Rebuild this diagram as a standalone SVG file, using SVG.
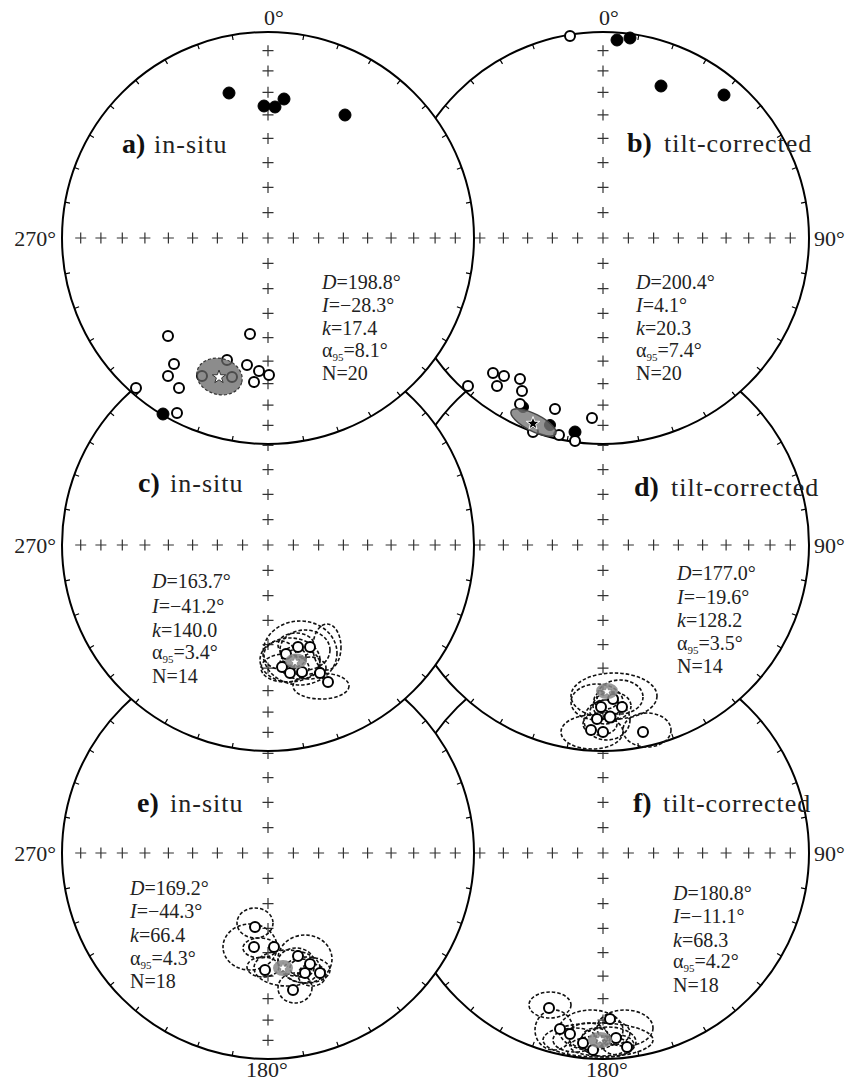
<svg xmlns="http://www.w3.org/2000/svg" xmlns:xlink="http://www.w3.org/1999/xlink" width="846" height="1081" viewBox="0 0 846 1081">
<style>
.rim{fill:#fff;stroke:#000;stroke-width:2}
.tick{fill:none;stroke:#000;stroke-width:1.2}
.grid{fill:none;stroke:#333;stroke-width:1.2}
.deg{font-family:"Liberation Serif",serif;font-size:22px;fill:#222}
.lb{font-family:"Liberation Serif",serif;font-size:28px;font-weight:bold;fill:#111}
.lt{font-family:"Liberation Serif",serif;font-size:26px;letter-spacing:1px;fill:#222}
.st{font-family:"Liberation Serif",serif;font-size:20px;fill:#222}
.it{font-style:italic}
.op{fill:#fff;stroke:#000;stroke-width:2}
.bk{fill:#000;stroke:#000;stroke-width:1}
.ds{fill:none;stroke:#111;stroke-width:1.6;stroke-dasharray:3.5 2}
.mean{fill:#888;fill-opacity:0.85;stroke:none}
.wstar{fill:#fff;stroke:#777;stroke-width:0.8}
</style>
<defs>
<path id="ticks" class="tick" d="M35.8,-202.9L34.9,-198M-35.8,-202.9L-34.9,-198M35.8,202.9L34.9,198M-35.8,202.9L-34.9,198M70.5,-193.6L68.8,-188.9M-70.5,-193.6L-68.8,-188.9M70.5,193.6L68.8,188.9M-70.5,193.6L-68.8,188.9M103,-178.4L100.5,-174.1M-103,-178.4L-100.5,-174.1M103,178.4L100.5,174.1M-103,178.4L-100.5,174.1M132.4,-157.8L129.2,-154M-132.4,-157.8L-129.2,-154M132.4,157.8L129.2,154M-132.4,157.8L-129.2,154M157.8,-132.4L154,-129.2M-157.8,-132.4L-154,-129.2M157.8,132.4L154,129.2M-157.8,132.4L-154,129.2M178.4,-103L174.1,-100.5M-178.4,-103L-174.1,-100.5M178.4,103L174.1,100.5M-178.4,103L-174.1,100.5M193.6,-70.5L188.9,-68.8M-193.6,-70.5L-188.9,-68.8M193.6,70.5L188.9,68.8M-193.6,70.5L-188.9,68.8M202.9,-35.8L198,-34.9M-202.9,-35.8L-198,-34.9M202.9,35.8L198,34.9M-202.9,35.8L-198,34.9"/>
<path id="grid" class="grid" d="M-5.5,0H5.5M0,-5.5V5.5M19.9,0H30.9M25.4,-5.5V5.5M45.1,0H56.1M50.6,-5.5V5.5M69.9,0H80.9M75.4,-5.5V5.5M94.1,0H105.1M99.6,-5.5V5.5M117.6,0H128.6M123.1,-5.5V5.5M140.2,0H151.2M145.7,-5.5V5.5M161.6,0H172.6M167.1,-5.5V5.5M181.8,0H192.8M187.3,-5.5V5.5M-30.9,0H-19.9M-25.4,-5.5V5.5M-56.1,0H-45.1M-50.6,-5.5V5.5M-80.9,0H-69.9M-75.4,-5.5V5.5M-105.1,0H-94.1M-99.6,-5.5V5.5M-128.6,0H-117.6M-123.1,-5.5V5.5M-151.2,0H-140.2M-145.7,-5.5V5.5M-172.6,0H-161.6M-167.1,-5.5V5.5M-192.8,0H-181.8M-187.3,-5.5V5.5M-5.5,25.4H5.5M0,19.9V30.9M-5.5,50.6H5.5M0,45.1V56.1M-5.5,75.4H5.5M0,69.9V80.9M-5.5,99.6H5.5M0,94.1V105.1M-5.5,123.1H5.5M0,117.6V128.6M-5.5,145.7H5.5M0,140.2V151.2M-5.5,167.1H5.5M0,161.6V172.6M-5.5,187.3H5.5M0,181.8V192.8M-5.5,-25.4H5.5M0,-30.9V-19.9M-5.5,-50.6H5.5M0,-56.1V-45.1M-5.5,-75.4H5.5M0,-80.9V-69.9M-5.5,-99.6H5.5M0,-105.1V-94.1M-5.5,-123.1H5.5M0,-128.6V-117.6M-5.5,-145.7H5.5M0,-151.2V-140.2M-5.5,-167.1H5.5M0,-172.6V-161.6M-5.5,-187.3H5.5M0,-192.8V-181.8"/>
<path id="star" d="M0,-7L1.65,-2.27L6.66,-2.16L2.66,0.87L4.11,5.66L0,2.8L-4.11,5.66L-2.66,0.87L-6.66,-2.16L-1.65,-2.27Z"/>
</defs>

<!-- f -->
<g id="net-f">
<circle class="rim" cx="603" cy="853" r="206"/>
<use href="#ticks" x="603" y="853"/>
<use href="#grid" x="603" y="853"/>
<g id="f-data">
<ellipse class="ds" cx="550" cy="1005" rx="21" ry="13"/>
<ellipse class="ds" cx="554" cy="1030" rx="19" ry="20"/>
<ellipse class="ds" cx="625" cy="1028" rx="28" ry="18"/>
<ellipse class="ds" cx="598" cy="1040" rx="55" ry="17"/>
<ellipse class="ds" cx="591" cy="1030" rx="32" ry="20"/>
<ellipse class="ds" cx="608" cy="1042" rx="28" ry="15"/>
<ellipse class="ds" cx="588" cy="1036" rx="20" ry="13"/>
<ellipse class="ds" cx="612" cy="1033" rx="18" ry="12"/>
<ellipse class="ds" cx="575" cy="1040" rx="22" ry="12"/>
<ellipse class="ds" cx="600" cy="1046" rx="30" ry="10"/>
<ellipse class="ds" cx="596" cy="1038" rx="14" ry="10"/>
<ellipse class="ds" cx="618" cy="1045" rx="16" ry="10"/>
<circle class="op" cx="549" cy="1008" r="5"/>
<circle class="op" cx="560" cy="1029" r="5"/>
<circle class="op" cx="570" cy="1034" r="5"/>
<circle class="op" cx="583" cy="1043" r="5"/>
<circle class="op" cx="610" cy="1019" r="5"/>
<circle class="op" cx="627" cy="1047" r="5"/>
<circle class="op" cx="616" cy="1038" r="5"/>
<circle class="op" cx="593" cy="1050" r="5"/>
<ellipse class="mean" cx="600" cy="1040" rx="12" ry="8"/>
<use href="#star" class="wstar" transform="translate(600,1039.5) scale(0.75)"/>
</g>
<text class="deg" x="814" y="861">90°</text>
<text class="deg" x="607" y="1077" text-anchor="middle">180°</text>
<text class="lb" x="633" y="812">f)</text>
<text class="lt" x="663" y="812">tilt-corrected</text>
<text class="st" x="673" y="900"><tspan class="it">D</tspan>=180.8°</text>
<text class="st" x="673" y="923"><tspan class="it">I</tspan>=−11.1°</text>
<text class="st" x="673" y="947"><tspan class="it">k</tspan>=68.3</text>
<text class="st" x="673" y="968">α<tspan font-size="11" dy="4">95</tspan><tspan dy="-4">=4.2°</tspan></text>
<text class="st" x="673" y="992">N=18</text>
</g>

<!-- e -->
<g id="net-e">
<circle class="rim" cx="268" cy="853" r="206"/>
<use href="#ticks" x="268" y="853"/>
<use href="#grid" x="268" y="853"/>
<g id="e-data">
<ellipse class="ds" cx="250" cy="947" rx="27" ry="23"/>
<ellipse class="ds" cx="255" cy="923" rx="18" ry="15"/>
<ellipse class="ds" cx="305" cy="959" rx="27" ry="24"/>
<ellipse class="ds" cx="295" cy="988" rx="17" ry="15"/>
<ellipse class="ds" cx="260" cy="948" rx="17" ry="10"/>
<ellipse class="ds" cx="287" cy="968" rx="33" ry="18"/>
<ellipse class="ds" cx="307" cy="970" rx="23" ry="13"/>
<ellipse class="ds" cx="263" cy="967" rx="16" ry="10"/>
<ellipse class="ds" cx="296" cy="962" rx="18" ry="14"/>
<ellipse class="ds" cx="312" cy="975" rx="14" ry="11"/>
<ellipse class="ds" cx="302" cy="968" rx="12" ry="9"/>
<circle class="op" cx="255" cy="927" r="5"/>
<circle class="op" cx="254" cy="947" r="5"/>
<circle class="op" cx="274" cy="947" r="5"/>
<circle class="op" cx="265" cy="970" r="5"/>
<circle class="op" cx="305" cy="973" r="5"/>
<circle class="op" cx="293" cy="990" r="5"/>
<circle class="op" cx="320" cy="973" r="5"/>
<circle class="op" cx="310" cy="964" r="5"/>
<circle class="op" cx="298" cy="956" r="5"/>
<ellipse class="mean" cx="283" cy="968" rx="10" ry="8"/>
<use href="#star" class="wstar" transform="translate(283,968) scale(0.75)"/>
</g>
<text class="deg" x="56" y="861" text-anchor="end">270°</text>
<text class="deg" x="267" y="1077" text-anchor="middle">180°</text>
<text class="lb" x="137" y="812">e)</text>
<text class="lt" x="170" y="812">in-situ</text>
<text class="st" x="130" y="895"><tspan class="it">D</tspan>=169.2°</text>
<text class="st" x="130" y="918"><tspan class="it">I</tspan>=−44.3°</text>
<text class="st" x="130" y="942"><tspan class="it">k</tspan>=66.4</text>
<text class="st" x="130" y="965">α<tspan font-size="11" dy="4">95</tspan><tspan dy="-4">=4.3°</tspan></text>
<text class="st" x="130" y="988">N=18</text>
</g>

<!-- d -->
<g id="net-d">
<circle class="rim" cx="603" cy="545" r="206"/>
<use href="#ticks" x="603" y="545"/>
<use href="#grid" x="603" y="545"/>
<g id="d-data">
<ellipse class="ds" cx="592" cy="732" rx="31" ry="17"/>
<ellipse class="ds" cx="647" cy="730" rx="24" ry="17"/>
<ellipse class="ds" cx="614" cy="696" rx="43" ry="23"/>
<ellipse class="ds" cx="597" cy="702" rx="26" ry="18"/>
<ellipse class="ds" cx="620" cy="697" rx="23" ry="17"/>
<ellipse class="ds" cx="607" cy="720" rx="23" ry="20"/>
<ellipse class="ds" cx="605" cy="712" rx="15" ry="12"/>
<ellipse class="ds" cx="612" cy="706" rx="19" ry="14"/>
<ellipse class="ds" cx="600" cy="724" rx="17" ry="11"/>
<ellipse class="ds" cx="606" cy="700" rx="12" ry="9"/>
<circle class="op" cx="601" cy="707" r="5"/>
<circle class="op" cx="622" cy="707" r="5"/>
<circle class="op" cx="610" cy="717" r="5.5"/>
<circle class="op" cx="643" cy="732" r="5"/>
<circle class="op" cx="591" cy="730" r="5"/>
<circle class="op" cx="603" cy="732" r="5"/>
<circle class="op" cx="613" cy="699" r="5"/>
<circle class="op" cx="597" cy="719" r="5"/>
<ellipse class="mean" cx="607" cy="691" rx="11" ry="8"/>
<use href="#star" class="wstar" transform="translate(607,691.5) scale(0.75)"/>
</g>
<text class="deg" x="814" y="553">90°</text>
<text class="lb" x="634" y="496">d)</text>
<text class="lt" x="671" y="496">tilt-corrected</text>
<text class="st" x="677" y="580"><tspan class="it">D</tspan>=177.0°</text>
<text class="st" x="677" y="604"><tspan class="it">I</tspan>=−19.6°</text>
<text class="st" x="677" y="627"><tspan class="it">k</tspan>=128.2</text>
<text class="st" x="677" y="650">α<tspan font-size="11" dy="4">95</tspan><tspan dy="-4">=3.5°</tspan></text>
<text class="st" x="677" y="673">N=14</text>
</g>

<!-- c -->
<g id="net-c">
<circle class="rim" cx="268" cy="545" r="206"/>
<use href="#ticks" x="268" y="545"/>
<use href="#grid" x="268" y="545"/>
<g id="c-data">
<ellipse class="ds" cx="300" cy="653" rx="37" ry="32"/>
<ellipse class="ds" cx="321" cy="686" rx="28" ry="13"/>
<ellipse class="ds" cx="290" cy="660" rx="30" ry="22"/>
<ellipse class="ds" cx="305" cy="650" rx="25" ry="20"/>
<ellipse class="ds" cx="327" cy="647" rx="14" ry="23"/>
<ellipse class="ds" cx="285" cy="668" rx="24" ry="14"/>
<ellipse class="ds" cx="296" cy="645" rx="18" ry="12"/>
<ellipse class="ds" cx="300" cy="664" rx="20" ry="15"/>
<ellipse class="ds" cx="280" cy="655" rx="16" ry="14"/>
<ellipse class="ds" cx="310" cy="668" rx="16" ry="11"/>
<ellipse class="ds" cx="294" cy="657" rx="12" ry="10"/>
<circle class="op" cx="298" cy="647" r="5"/>
<circle class="op" cx="310" cy="647" r="5"/>
<circle class="op" cx="282" cy="667" r="5"/>
<circle class="op" cx="290" cy="673" r="5"/>
<circle class="op" cx="302" cy="672" r="5"/>
<circle class="op" cx="320" cy="673" r="5"/>
<circle class="op" cx="328" cy="682" r="5"/>
<circle class="op" cx="286" cy="654" r="5"/>
<ellipse class="mean" cx="296" cy="661" rx="11" ry="7.5"/>
<use href="#star" class="wstar" transform="translate(295,662) scale(0.75)"/>
</g>
<text class="deg" x="56" y="553" text-anchor="end">270°</text>
<text class="lb" x="138" y="492">c)</text>
<text class="lt" x="170" y="492">in-situ</text>
<text class="st" x="152" y="588"><tspan class="it">D</tspan>=163.7°</text>
<text class="st" x="152" y="613"><tspan class="it">I</tspan>=−41.2°</text>
<text class="st" x="152" y="637"><tspan class="it">k</tspan>=140.0</text>
<text class="st" x="152" y="659">α<tspan font-size="11" dy="4">95</tspan><tspan dy="-4">=3.4°</tspan></text>
<text class="st" x="152" y="683">N=14</text>
</g>

<!-- b -->
<g id="net-b">
<circle class="rim" cx="603" cy="238" r="206"/>
<use href="#ticks" x="603" y="238"/>
<use href="#grid" x="603" y="238"/>
<g id="b-data">
<circle class="bk" cx="617" cy="40" r="6"/>
<circle class="bk" cx="630" cy="38" r="6"/>
<circle class="bk" cx="661" cy="86" r="6"/>
<circle class="bk" cx="724" cy="95" r="6"/>
<circle class="op" cx="570" cy="36" r="5"/>
<circle class="op" cx="493" cy="373" r="5"/>
<circle class="op" cx="504" cy="376" r="5"/>
<circle class="op" cx="497" cy="386" r="5"/>
<circle class="op" cx="520" cy="379" r="5"/>
<circle class="op" cx="522" cy="391" r="5"/>
<circle class="bk" cx="523" cy="407" r="5.5"/>
<circle class="op" cx="520" cy="404" r="5"/>
<circle class="op" cx="468" cy="386" r="5"/>
<circle class="op" cx="555" cy="409" r="5"/>
<circle class="op" cx="592" cy="418" r="5"/>
<circle class="bk" cx="550" cy="425" r="5.5"/>
<circle class="op" cx="533" cy="432" r="5"/>
<circle class="bk" cx="575" cy="432" r="6"/>
<circle class="op" cx="559" cy="435" r="5"/>
<circle class="op" cx="575" cy="441" r="5"/>
<ellipse cx="533.5" cy="422.5" rx="25" ry="8.5" transform="rotate(27 533.5 422.5)" fill="#777" fill-opacity="0.8" stroke="#444" stroke-width="1.5"/>
<use href="#star" fill="#000" stroke="#fff" stroke-width="1" transform="translate(533,423.5)"/>
</g>
<text class="deg" x="609" y="25" text-anchor="middle">0°</text>
<text class="deg" x="814" y="246">90°</text>
<text class="lb" x="627" y="152">b)</text>
<text class="lt" x="664" y="152">tilt-corrected</text>
<text class="st" x="636" y="289"><tspan class="it">D</tspan>=200.4°</text>
<text class="st" x="636" y="312"><tspan class="it">I</tspan>=4.1°</text>
<text class="st" x="636" y="335"><tspan class="it">k</tspan>=20.3</text>
<text class="st" x="636" y="357">α<tspan font-size="11" dy="4">95</tspan><tspan dy="-4">=7.4°</tspan></text>
<text class="st" x="636" y="380">N=20</text>
</g>

<!-- a -->
<g id="net-a">
<circle class="rim" cx="268" cy="238" r="206"/>
<use href="#ticks" x="268" y="238"/>
<use href="#grid" x="268" y="238"/>
<g id="a-data">
<circle class="bk" cx="229" cy="93" r="6"/>
<circle class="bk" cx="264" cy="106" r="6"/>
<circle class="bk" cx="275" cy="107" r="6"/>
<circle class="bk" cx="284" cy="99" r="6"/>
<circle class="bk" cx="345" cy="115" r="6"/>
<circle class="op" cx="168" cy="336" r="5"/>
<circle class="op" cx="250" cy="334" r="5"/>
<circle class="op" cx="174" cy="364" r="5"/>
<circle class="op" cx="168" cy="376" r="5"/>
<circle class="op" cx="179" cy="388" r="5"/>
<circle class="op" cx="136" cy="388" r="5"/>
<circle class="bk" cx="163" cy="414" r="6"/>
<circle class="op" cx="177" cy="413" r="5"/>
<circle class="op" cx="227" cy="360" r="5"/>
<circle class="op" cx="247" cy="365" r="5"/>
<circle class="op" cx="259" cy="371" r="5"/>
<circle class="op" cx="269" cy="375" r="5"/>
<circle class="op" cx="254" cy="382" r="5"/>
<circle class="op" cx="202" cy="376" r="5"/>
<circle class="op" cx="232" cy="377" r="5"/>
<ellipse cx="219.5" cy="376.5" rx="23" ry="18" transform="rotate(15 219.5 376.5)" fill="#666" fill-opacity="0.75" stroke="#333" stroke-width="1.2" stroke-dasharray="3 2"/>
<use href="#star" fill="#fff" stroke="#333" stroke-width="1" transform="translate(219,377)"/>
</g>
<text class="deg" x="274" y="25" text-anchor="middle">0°</text>
<text class="deg" x="56" y="246" text-anchor="end">270°</text>
<text class="lb" x="122" y="153">a)</text>
<text class="lt" x="154" y="153">in-situ</text>
<text class="st" x="322" y="289"><tspan class="it">D</tspan>=198.8°</text>
<text class="st" x="322" y="312"><tspan class="it">I</tspan>=−28.3°</text>
<text class="st" x="322" y="335"><tspan class="it">k</tspan>=17.4</text>
<text class="st" x="322" y="357">α<tspan font-size="11" dy="4">95</tspan><tspan dy="-4">=8.1°</tspan></text>
<text class="st" x="322" y="380">N=20</text>
</g>
</svg>
